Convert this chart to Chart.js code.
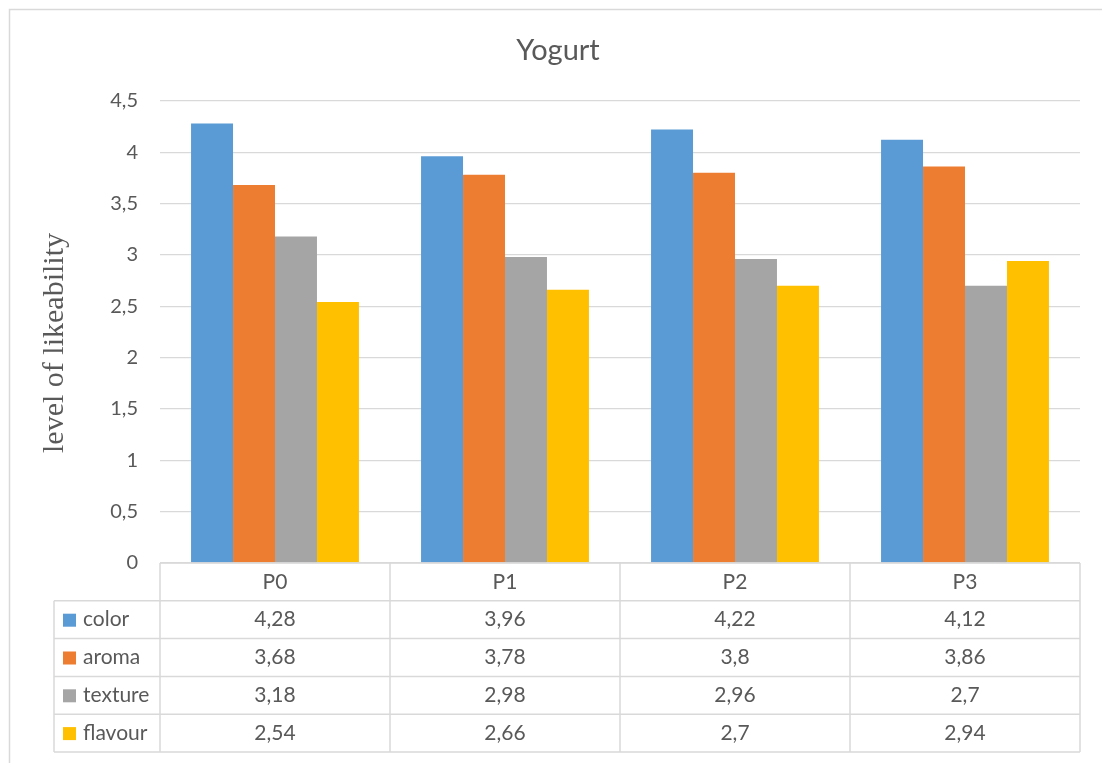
<!DOCTYPE html>
<html>
<head>
<meta charset="utf-8">
<script src="https://cdn.jsdelivr.net/npm/chart.js@4.4.0/dist/chart.umd.min.js"></script>
<style>
  html, body { margin: 0; padding: 0; background: #fff; }
  canvas { display: block; }
</style>
</head>
<body>
<canvas id="yogurtChart" width="1102" height="763"></canvas>
<script>
// data
const categories = ['P0', 'P1', 'P2', 'P3'];
const seriesNames = ['color', 'aroma', 'texture', 'flavour'];
const color = [4.28, 3.96, 4.22, 4.12];
const aroma = [3.68, 3.78, 3.8, 3.86];
const texture = [3.18, 2.98, 2.96, 2.7];
const flavour = [2.54, 2.66, 2.7, 2.94];
const yTicks = [0, 0.5, 1, 1.5, 2, 2.5, 3, 3.5, 4, 4.5];

const seriesValues = [color, aroma, texture, flavour];
const seriesColors = ['#5B9BD5', '#ED7D31', '#A5A5A5', '#FFC000'];
const textColor = '#595959';
const lineColor = '#D9D9D9';
const fontFamily = 'Lato, "Open Sans", sans-serif';

// Excel uses a decimal comma
function fmt(v) {
    return String(v).replace('.', ',');
}

// outer frame of the chart object
const frame = {
    id: 'frame',
    beforeDraw(chart) {
        const ctx = chart.ctx;
        ctx.save();
        ctx.strokeStyle = lineColor;
        ctx.lineWidth = 1.5;
        ctx.strokeRect(9.5, 9.5, 1200, 1200);
        ctx.restore();
    }
};

// y title in serif + data table under the plot
const dataTable = {
    id: 'dataTable',
    afterDraw(chart) {
        const ctx = chart.ctx;
        const area = chart.chartArea;
        const x = chart.scales.x;
        const colW = (area.right - area.left) / categories.length;
        const rowH = 37.8;
        const top = area.bottom;
        const labelLeft = 54;
        const rows = seriesNames.length + 1;

        ctx.save();

        // axis title
        ctx.save();
        ctx.translate(55, 343);
        ctx.rotate(-Math.PI / 2);
        ctx.font = '30px "Liberation Serif", "Times New Roman", serif';
        ctx.fillStyle = textColor;
        ctx.textAlign = 'center';
        ctx.textBaseline = 'middle';
        ctx.fillText('level of likeability', 0, 0);
        ctx.restore();

        // grid of the table
        ctx.strokeStyle = lineColor;
        ctx.lineWidth = 1.5;
        ctx.beginPath();
        ctx.moveTo(area.left, top);
        ctx.lineTo(area.right, top);
        for (let k = 1; k <= rows; k++) {
            ctx.moveTo(labelLeft, top + k * rowH);
            ctx.lineTo(area.right, top + k * rowH);
        }
        ctx.moveTo(labelLeft, top + rowH);
        ctx.lineTo(labelLeft, top + rows * rowH);
        for (let i = 0; i <= categories.length; i++) {
            ctx.moveTo(area.left + i * colW, top);
            ctx.lineTo(area.left + i * colW, top + rows * rowH);
        }
        ctx.stroke();

        // texts
        ctx.font = '21px ' + fontFamily;
        ctx.fillStyle = textColor;
        ctx.textBaseline = 'middle';
        ctx.textAlign = 'center';
        categories.forEach((c, i) => {
            ctx.fillText(c, x.getPixelForValue(i), top + rowH / 2);
        });
        seriesNames.forEach((name, r) => {
            const cy = top + (r + 1.5) * rowH;
            ctx.fillStyle = seriesColors[r];
            ctx.fillRect(63, cy - 6, 13, 13);
            ctx.fillStyle = textColor;
            ctx.textAlign = 'left';
            ctx.fillText(name, 83, cy);
            ctx.textAlign = 'center';
            seriesValues[r].forEach((v, i) => {
                ctx.fillText(fmt(v), x.getPixelForValue(i), cy);
            });
        });

        ctx.restore();
    }
};

const ctxYogurt = document.getElementById('yogurtChart').getContext('2d');
new Chart(ctxYogurt, {
    type: 'bar',
    data: {
        labels: categories,
        datasets: seriesNames.map((name, r) => ({
            label: name,
            data: seriesValues[r],
            backgroundColor: seriesColors[r],
            borderWidth: 0,
            categoryPercentage: 0.73,
            barPercentage: 1.0
        }))
    },
    options: {
        responsive: false,
        animation: false,
        layout: {
            padding: { top: 10, bottom: 200, left: 36, right: 22 }
        },
        plugins: {
            legend: { display: false },
            tooltip: { enabled: false },
            title: {
                display: true,
                text: 'Yogurt',
                color: textColor,
                font: { family: fontFamily, size: 29, weight: 'normal' },
                padding: { top: 23, bottom: 33 }
            }
        },
        scales: {
            x: {
                display: false
            },
            y: {
                min: 0,
                max: 4.5,
                afterBuildTicks: (scale) => {
                    scale.ticks = yTicks.map(v => ({ value: v }));
                },
                afterFit: (scale) => {
                    scale.width = 124;
                },
                border: { display: false },
                grid: {
                    color: lineColor,
                    lineWidth: 1.3,
                    drawTicks: false
                },
                ticks: {
                    color: textColor,
                    padding: 22,
                    font: { family: fontFamily, size: 20 },
                    callback: (v) => fmt(v)
                }
            }
        }
    },
    plugins: [frame, dataTable]
});
</script>
</body>
</html>
